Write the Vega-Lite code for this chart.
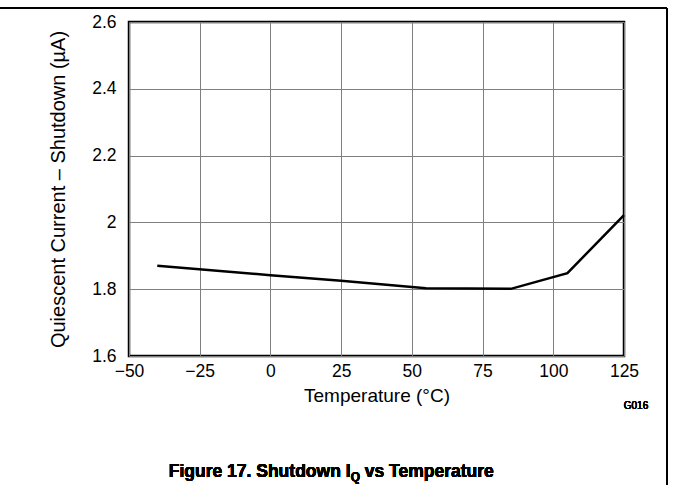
{
  "$schema": "https://vega.github.io/schema/vega-lite/v6.json",
  "width": 495,
  "height": 334,
  "autosize": {"type": "none"},
  "padding": {"left": 129, "top": 22, "right": 49, "bottom": 129},
  "background": "white",
  "config": {
    "view": {"stroke": "black", "strokeWidth": 2.5},
    "font": "Liberation Sans"
  },
  "data": {
    "values": [
      {"temperature": -40, "current": 1.870},
      {"temperature": 0, "current": 1.842},
      {"temperature": 25, "current": 1.825},
      {"temperature": 55, "current": 1.803},
      {"temperature": 85, "current": 1.801},
      {"temperature": 105, "current": 1.848},
      {"temperature": 125, "current": 2.022}
    ]
  },
  "layer": [
    {
      "mark": {"type": "line", "color": "black", "strokeWidth": 2.5},
      "encoding": {
        "x": {
          "field": "temperature",
          "type": "quantitative",
          "scale": {"domain": [-50, 125], "nice": false, "zero": false},
          "axis": {
            "values": [-50, -25, 0, 25, 50, 75, 100, 125],
            "format": "d",
            "labelOverlap": false,
            "labelBound": false,
            "labelFlush": false,
            "grid": true,
            "gridColor": "#7f7f7f",
            "gridWidth": 1,
            "domain": false,
            "ticks": false,
            "labelFontSize": 17.5,
            "labelColor": "black",
            "labelPadding": 6,
            "labelFont": "Liberation Sans",
            "title": "Temperature (°C)",
            "titleFontSize": 19,
            "titleFontWeight": "normal",
            "titleColor": "black",
            "titleFont": "Liberation Sans",
            "titlePadding": 7
          }
        },
        "y": {
          "field": "current",
          "type": "quantitative",
          "scale": {"domain": [1.6, 2.6], "nice": false, "zero": false},
          "axis": {
            "values": [1.6, 1.8, 2.0, 2.2, 2.4, 2.6],
            "format": "~g",
            "labelOverlap": false,
            "labelBound": false,
            "labelFlush": false,
            "grid": true,
            "gridColor": "#7f7f7f",
            "gridWidth": 1,
            "domain": false,
            "ticks": false,
            "labelFontSize": 17.5,
            "labelColor": "black",
            "labelPadding": 13,
            "labelFont": "Liberation Sans",
            "title": "Quiescent Current – Shutdown (µA)",
            "titleFontSize": 20,
            "titleFontWeight": "normal",
            "titleColor": "black",
            "titleFont": "Liberation Sans",
            "titlePadding": 23
          }
        }
      }
    },
    {
      "mark": {"type": "text", "text": "G016", "fontSize": 10, "color": "black", "dx": 12, "dy": 50, "font": "Liberation Sans"},
      "encoding": {"x": {"datum": 125}, "y": {"datum": 1.6}}
    },
    {
      "mark": {"type": "text", "text": "Figure 17. Shutdown I", "fontSize": 17.5, "fontWeight": "bold", "color": "black", "align": "right", "baseline": "alphabetic", "dx": 9.4, "dy": 121, "font": "Liberation Sans"},
      "encoding": {"x": {"datum": 25}, "y": {"datum": 1.6}}
    },
    {
      "mark": {"type": "text", "text": "Q", "fontSize": 12, "fontWeight": "bold", "color": "black", "align": "left", "baseline": "alphabetic", "dx": 9.6, "dy": 125, "font": "Liberation Sans"},
      "encoding": {"x": {"datum": 25}, "y": {"datum": 1.6}}
    },
    {
      "mark": {"type": "text", "text": "vs Temperature", "fontSize": 17.5, "fontWeight": "bold", "color": "black", "align": "left", "baseline": "alphabetic", "dx": 23.6, "dy": 121, "font": "Liberation Sans"},
      "encoding": {"x": {"datum": 25}, "y": {"datum": 1.6}}
    },
    {
      "mark": {"type": "rule", "color": "black", "strokeWidth": 1.5},
      "encoding": {"x": {"datum": -96}, "x2": {"datum": 140.2}, "y": {"datum": 2.642}}
    },
    {
      "mark": {"type": "rule", "color": "black", "strokeWidth": 1.5},
      "encoding": {"x": {"datum": 140.2}, "y": {"datum": 2.642}, "y2": {"datum": 1.2}}
    }
  ]
}
